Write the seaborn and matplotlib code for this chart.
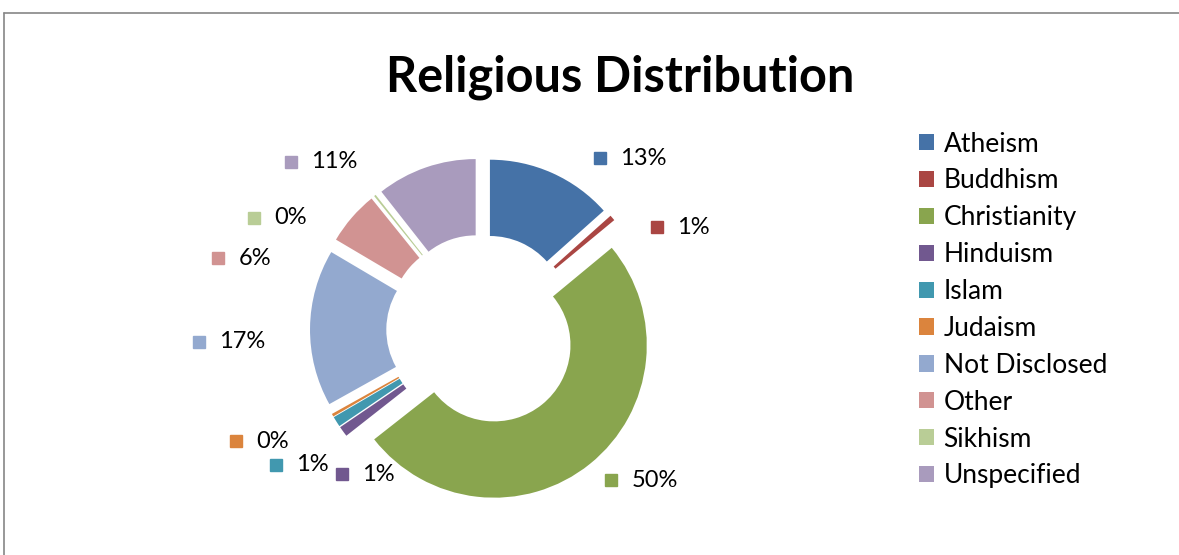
import numpy as np
import matplotlib.pyplot as plt
from matplotlib.lines import Line2D
from matplotlib.patches import Patch
import seaborn as sns

# ---------------------------------------------
# data
# ---------------------------------------------
religions = ["Atheism", "Buddhism", "Christianity", "Hinduism", "Islam",
             "Judaism", "Not Disclosed", "Other", "Sikhism", "Unspecified"]
shares = [13.4, 0.6, 50.4, 1.1, 1.1, 0.3, 16.6, 5.7, 0.2, 10.6]

# ---------------------------------------------
# style
# ---------------------------------------------
colors = ["#4572A7", "#AA4643", "#89A54E", "#71588F", "#4198AF",
          "#DB843D", "#93A9CF", "#D19392", "#B9CD96", "#A99BBD"]
# label placement: angle shift from slice middle (deg) and radius (in R)
label_shift = [10.4, 10.2, -1.8, -9.6, -1.0, 5.4, -3.1, -25.6, -25.3, -29.6]
label_r = [1.367, 1.33, 1.30, 1.32, 1.61, 1.77, 1.855, 1.79, 1.665, 1.67]

sns.set_theme(style="white")
plt.rcParams["font.family"] = ["Lato", "DejaVu Sans"]
plt.rcParams["text.color"] = "black"
palette = sns.color_palette(colors)

W, H = 1179, 555
fig = plt.figure(figsize=(W / 100, H / 100), dpi=100)
fig.patch.set_facecolor("white")

# donut center in pixels, radius in pixels
cx, cy, R = 482, 330, 152.6
ax = fig.add_axes([0, 0, 1, 1])
ax.axis("off")

wedges, _ = ax.pie(shares, colors=palette, startangle=90, counterclock=False,
                   explode=[0.127] * len(shares), radius=1,
                   wedgeprops=dict(width=0.5, linewidth=0))
ax.set_xlim(-cx / R, (W - cx) / R)
ax.set_ylim(-(H - cy) / R, cy / R)
ax.set_aspect("auto")

# percentage labels with colour key
total = sum(shares)
cum = np.cumsum([0] + shares[:-1])
for i, v in enumerate(shares):
    mid = (cum[i] + v / 2) / total * 360
    ang = np.deg2rad(mid + label_shift[i])
    x = label_r[i] * np.sin(ang)
    y = label_r[i] * np.cos(ang)
    ax.plot(x, y, marker="s", ms=9, color=palette[i], linestyle="none")
    ax.text(x + 20 / R, y, f"{v / total * 100:.0f}%", fontsize=17,
            ha="left", va="center", color="black")

fig.text(620 / W, 1 - 77 / H, "Religious Distribution", fontsize=35,
         fontweight="bold", ha="center", va="center", color="black")

handles = [Patch(facecolor=palette[i], edgecolor="none") for i in range(len(religions))]
leg = fig.legend(handles, religions, loc="upper left", bbox_to_anchor=(908 / W, 1 - 121 / H),
                 frameon=False, fontsize=19, handlelength=0.57, handleheight=0.57,
                 handletextpad=0.38, labelspacing=0.45, borderaxespad=0)
for t in leg.get_texts():
    t.set_color("black")

# chart frame
fig.add_artist(Line2D([3.5 / W, 1], [1 - 12.5 / H, 1 - 12.5 / H], color="#868686", lw=1.2))
fig.add_artist(Line2D([3.5 / W, 3.5 / W], [0, 1 - 12.5 / H], color="#868686", lw=1.2))

fig.savefig("out.png", dpi=100)
